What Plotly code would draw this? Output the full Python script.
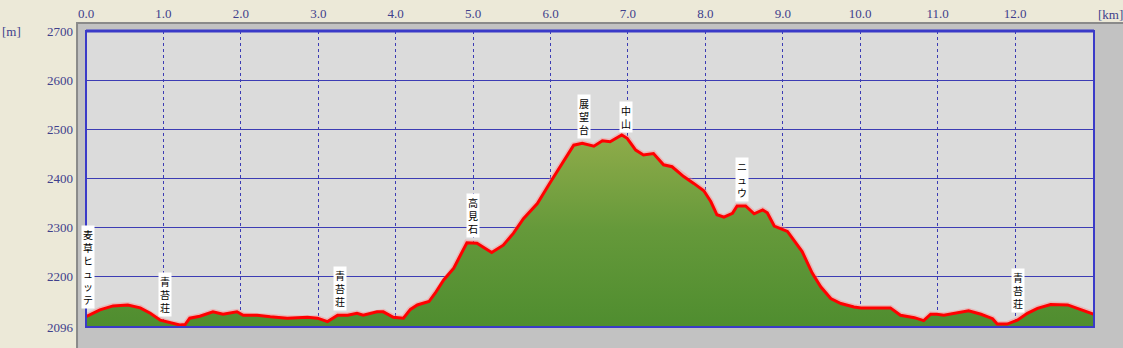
import plotly.graph_objects as go

# ---- data ----
dist_km = [0.00, 0.18, 0.35, 0.54, 0.70, 0.83, 0.96, 1.09, 1.21, 1.28, 1.34, 1.47, 1.64, 1.77,
           1.95, 2.03, 2.21, 2.38, 2.60, 2.86, 2.99, 3.12, 3.25, 3.38, 3.50, 3.58, 3.76, 3.84,
           3.97, 4.10, 4.19, 4.28, 4.43, 4.51, 4.62, 4.75, 4.84, 4.92, 5.05, 5.24, 5.39, 5.52,
           5.65, 5.83, 6.00, 6.17, 6.30, 6.41, 6.56, 6.67, 6.77, 6.92, 6.99, 7.10, 7.20, 7.33,
           7.46, 7.57, 7.72, 7.85, 7.98, 8.07, 8.15, 8.24, 8.35, 8.41, 8.52, 8.63, 8.74, 8.80,
           8.89, 9.06, 9.14, 9.25, 9.38, 9.49, 9.62, 9.75, 9.92, 10.01, 10.39, 10.52, 10.70,
           10.82, 10.91, 10.99, 11.08, 11.25, 11.40, 11.56, 11.71, 11.77, 11.90, 12.03, 12.16,
           12.29, 12.46, 12.68, 12.85, 13.02]
elev_m = [2117, 2131, 2139, 2141, 2135, 2124, 2110, 2104, 2100, 2101, 2114, 2118, 2127, 2122,
          2127, 2120, 2120, 2117, 2114, 2116, 2114, 2107, 2120, 2120, 2124, 2120, 2127, 2127,
          2116, 2114, 2132, 2141, 2148, 2165, 2192, 2216, 2243, 2268, 2267, 2248, 2263, 2287,
          2317, 2348, 2392, 2433, 2467, 2471, 2465, 2476, 2474, 2488, 2481, 2457, 2447, 2450,
          2427, 2423, 2403, 2389, 2374, 2352, 2325, 2320, 2328, 2343, 2343, 2327, 2335, 2329,
          2302, 2291, 2273, 2250, 2206, 2178, 2154, 2144, 2137, 2135, 2135, 2120, 2115,
          2109, 2122, 2122, 2120, 2124, 2129, 2122, 2113, 2102, 2102, 2110, 2124,
          2134, 2142, 2141, 2131, 2122]

waypoint_names = ["麦草ヒュッテ", "青苔荘", "青苔荘", "高見石", "展望台", "中山", "ニュウ", "青苔荘"]
waypoint_km = [0.03, 1.02, 3.28, 5.00, 6.43, 6.97, 8.47, 12.04]
waypoint_elev = [2133, 2116, 2129, 2278, 2480, 2492, 2351, 2124]

x_ticks = [0, 1, 2, 3, 4, 5, 6, 7, 8, 9, 10, 11, 12]
x_ticktext = ["0.0", "1.0", "2.0", "3.0", "4.0", "5.0", "6.0", "7.0", "8.0", "9.0", "10.0", "11.0", "12.0"]
y_ticks = [2096, 2200, 2300, 2400, 2500, 2600, 2700]
x_max = 13.02
y_min, y_max = 2096, 2700

# ---- styles ----
PAPER = "#ECE9D8"
PANEL = "#C2C2C2"
PLOTBG = "#DBDBDB"
GRID = "#3C3CB4"
BORDER = "#3A3AC8"
TICKCOLOR = "#40408C"
TICKFONT = dict(family="Liberation Serif", size=13, color=TICKCOLOR)

fig = go.Figure()

fig.add_trace(go.Scatter(
    x=dist_km, y=elev_m, mode="lines",
    line=dict(color="rgba(255,130,130,0.4)", width=6),
    hoverinfo="skip", showlegend=False,
))
fig.add_trace(go.Scatter(
    x=dist_km, y=elev_m, mode="lines", fill="tozeroy",
    fillgradient=dict(type="vertical", start=2096, stop=2490,
                      colorscale=[[0, "#4F8D2F"], [0.5, "#65993A"], [1, "#90AC4A"]]),
    line=dict(color="#FF0000", width=3),
    hoverinfo="skip", showlegend=False,
))

annotations = []
for name, xk, ye in zip(waypoint_names, waypoint_km, waypoint_elev):
    annotations.append(dict(
        x=xk, y=ye, xref="x", yref="y", xanchor="center", yanchor="bottom",
        text="<br>".join(list(name)), showarrow=False,
        font=dict(family="Noto Sans CJK JP", size=10, color="black"),
        bgcolor="white", borderpad=1,
    ))
annotations.append(dict(x=-0.0853, y=1.0, xref="paper", yref="paper", xanchor="left",
                        yanchor="middle", text="[m]", showarrow=False, font=TICKFONT))
annotations.append(dict(x=1.016, y=1.057, xref="paper", yref="paper", xanchor="center",
                        yanchor="middle", text="[km]", showarrow=False, font=TICKFONT))

shapes = [
    # gray panel behind plot
    dict(type="rect", xref="paper", yref="paper", x0=-0.0089, x1=1.03, y0=-0.08, y1=1.027,
         fillcolor=PANEL, line=dict(color="#8A8A8A", width=2), layer="below"),
    # plot background
    dict(type="rect", xref="paper", yref="paper", x0=0, x1=1, y0=0, y1=1,
         fillcolor=PLOTBG, line=dict(width=0), layer="below"),
    # blue frame
    dict(type="rect", xref="paper", yref="paper", x0=0, x1=1, y0=0, y1=1,
         fillcolor="rgba(0,0,0,0)", line=dict(color=BORDER, width=2), layer="above"),
    dict(type="line", xref="paper", yref="paper", x0=0, x1=1, y0=1, y1=1,
         line=dict(color=BORDER, width=3), layer="above"),
]

fig.update_layout(
    width=1123, height=348,
    margin=dict(l=86, r=29, t=31, b=21, pad=0, autoexpand=False),
    paper_bgcolor=PAPER, plot_bgcolor="rgba(0,0,0,0)",
    showlegend=False,
    annotations=annotations, shapes=shapes,
    xaxis=dict(range=[0, x_max], side="top", tickvals=x_ticks, ticktext=x_ticktext,
               showgrid=True, gridcolor=GRID, gridwidth=1, griddash="dot",
               zeroline=False, showline=False, ticks="", tickfont=TICKFONT,
               ticklabelstandoff=9, automargin=False, fixedrange=True),
    yaxis=dict(range=[y_min, y_max], tickvals=y_ticks,
               showgrid=True, gridcolor=GRID, gridwidth=1,
               zeroline=False, showline=False, ticks="", tickfont=TICKFONT,
               ticklabelstandoff=12, automargin=False, fixedrange=True),
)

fig.write_html("out.html")
